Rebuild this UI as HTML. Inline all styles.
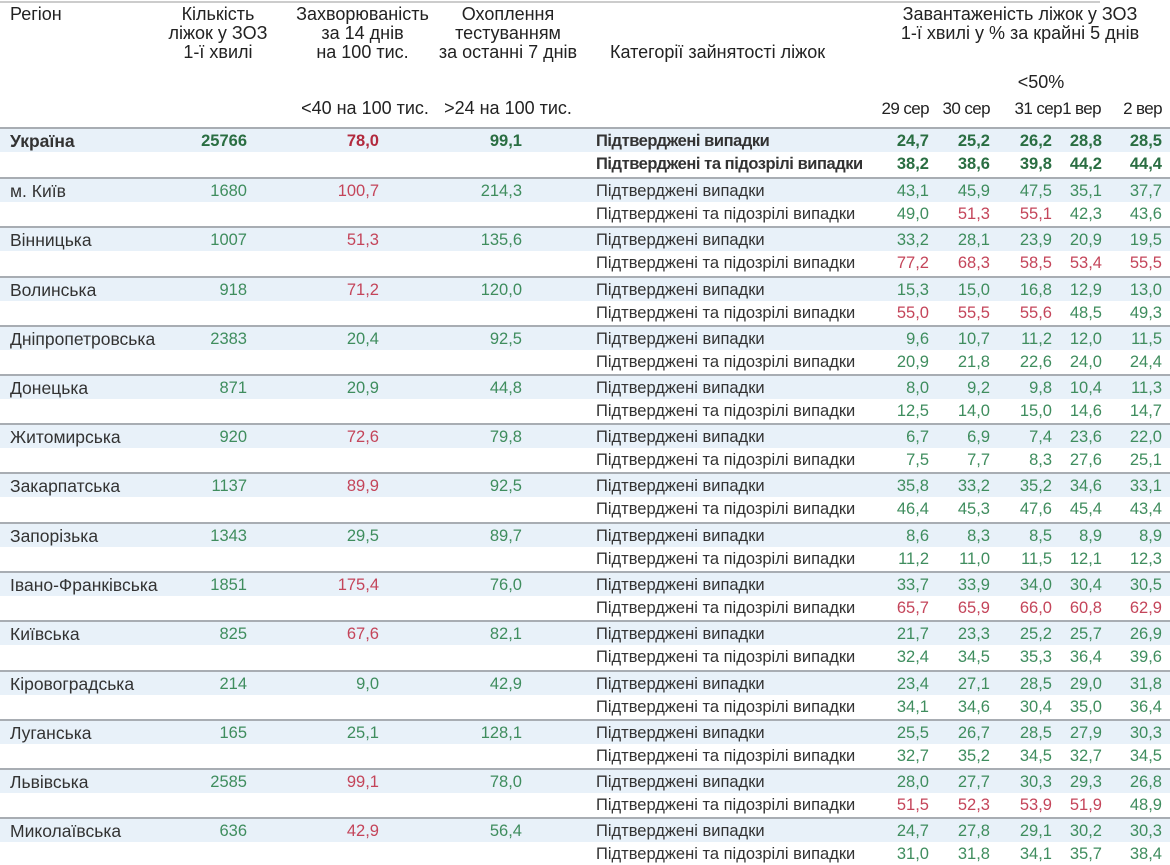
<!DOCTYPE html>
<html><head><meta charset="utf-8">
<style>
body{margin:0;background:#fff;}
#w{position:relative;width:1170px;height:865px;overflow:hidden;font-family:"Liberation Sans Narrow","Liberation Sans",sans-serif;font-size:16.5px;color:#333;}
.h{position:absolute;text-align:center;line-height:19px;color:#222;font-size:18px;}
.dh{position:absolute;top:99px;line-height:19px;color:#222;font-size:17px;letter-spacing:-0.6px;white-space:nowrap}
.R{position:absolute;left:0;width:1170px;height:49px;border-top:2px solid #a8adb3;box-sizing:border-box;}
.R:before{content:"";position:absolute;left:0;top:0;width:1170px;height:23px;background:#e8f1f9;}
.l{position:absolute;left:0;width:1170px;height:24px;line-height:24px;}
.l1{top:0}.l2{top:23px}
.l span{position:absolute;white-space:nowrap;}
.n{left:10px;font-size:17.5px}.b{right:923px}.i{right:791px}.t{right:648px}.c{left:596px}
.d1{right:241px}.d2{right:180px}.d3{right:118px}.d4{right:68px}.d5{right:8px}
.g{color:#3f8d5e}.r{color:#c4455a}
.U .g{color:#2a6e42}.U .r{color:#b22a3e}.U{font-weight:bold}
.U .c{letter-spacing:-0.45px}
</style></head><body><div id="w">
<div style="position:absolute;left:0;top:1px;width:1100px;height:2px;background:#ccc"></div>
<div class="h" style="left:10px;top:5px;text-align:left">Регіон</div>
<div class="h" style="left:153px;top:5px;width:130px">Кількість<br>ліжок у ЗОЗ<br>1-ї хвилі</div>
<div class="h" style="left:280px;top:5px;width:165px">Захворюваність<br>за 14 днів<br>на 100 тис.</div>
<div class="h" style="left:425px;top:5px;width:166px">Охоплення<br>тестуванням<br>за останні 7 днів</div>
<div class="h" style="left:280px;top:99px;width:170px">&lt;40 на 100 тис.</div>
<div class="h" style="left:425px;top:99px;width:166px">&gt;24 на 100 тис.</div>
<div class="h" style="left:610px;top:43px;text-align:left">Категорії зайнятості ліжок</div>
<div class="h" style="left:870px;top:5px;width:300px">Завантаженість ліжок у ЗОЗ<br>1-ї хвилі у % за крайні 5 днів</div>
<div class="h" style="left:1005px;top:73px;width:72px">&lt;50%</div>
<div class="dh" style="right:241px">29 сер</div>
<div class="dh" style="right:180px">30 сер</div>
<div class="dh" style="right:108px">31 сер</div>
<div class="dh" style="right:69px">1 вер</div>
<div class="dh" style="right:8px">2 вер</div>

<div class="R U" style="top:127px">
<div class="l l1"><span class="n">Україна</span><span class="b g">25766</span><span class="i r">78,0</span><span class="t g">99,1</span><span class="c">Підтверджені випадки</span><span class="d1 g">24,7</span><span class="d2 g">25,2</span><span class="d3 g">26,2</span><span class="d4 g">28,8</span><span class="d5 g">28,5</span></div>
<div class="l l2"><span class="c">Підтверджені та підозрілі випадки</span><span class="d1 g">38,2</span><span class="d2 g">38,6</span><span class="d3 g">39,8</span><span class="d4 g">44,2</span><span class="d5 g">44,4</span></div></div>

<div class="R" style="top:177px">
<div class="l l1"><span class="n">м. Київ</span><span class="b g">1680</span><span class="i r">100,7</span><span class="t g">214,3</span><span class="c">Підтверджені випадки</span><span class="d1 g">43,1</span><span class="d2 g">45,9</span><span class="d3 g">47,5</span><span class="d4 g">35,1</span><span class="d5 g">37,7</span></div>
<div class="l l2"><span class="c">Підтверджені та підозрілі випадки</span><span class="d1 g">49,0</span><span class="d2 r">51,3</span><span class="d3 r">55,1</span><span class="d4 g">42,3</span><span class="d5 g">43,6</span></div></div>

<div class="R" style="top:226px">
<div class="l l1"><span class="n">Вінницька</span><span class="b g">1007</span><span class="i r">51,3</span><span class="t g">135,6</span><span class="c">Підтверджені випадки</span><span class="d1 g">33,2</span><span class="d2 g">28,1</span><span class="d3 g">23,9</span><span class="d4 g">20,9</span><span class="d5 g">19,5</span></div>
<div class="l l2"><span class="c">Підтверджені та підозрілі випадки</span><span class="d1 r">77,2</span><span class="d2 r">68,3</span><span class="d3 r">58,5</span><span class="d4 r">53,4</span><span class="d5 r">55,5</span></div></div>

<div class="R" style="top:276px">
<div class="l l1"><span class="n">Волинська</span><span class="b g">918</span><span class="i r">71,2</span><span class="t g">120,0</span><span class="c">Підтверджені випадки</span><span class="d1 g">15,3</span><span class="d2 g">15,0</span><span class="d3 g">16,8</span><span class="d4 g">12,9</span><span class="d5 g">13,0</span></div>
<div class="l l2"><span class="c">Підтверджені та підозрілі випадки</span><span class="d1 r">55,0</span><span class="d2 r">55,5</span><span class="d3 r">55,6</span><span class="d4 g">48,5</span><span class="d5 g">49,3</span></div></div>

<div class="R" style="top:325px">
<div class="l l1"><span class="n">Дніпропетровська</span><span class="b g">2383</span><span class="i g">20,4</span><span class="t g">92,5</span><span class="c">Підтверджені випадки</span><span class="d1 g">9,6</span><span class="d2 g">10,7</span><span class="d3 g">11,2</span><span class="d4 g">12,0</span><span class="d5 g">11,5</span></div>
<div class="l l2"><span class="c">Підтверджені та підозрілі випадки</span><span class="d1 g">20,9</span><span class="d2 g">21,8</span><span class="d3 g">22,6</span><span class="d4 g">24,0</span><span class="d5 g">24,4</span></div></div>

<div class="R" style="top:374px">
<div class="l l1"><span class="n">Донецька</span><span class="b g">871</span><span class="i g">20,9</span><span class="t g">44,8</span><span class="c">Підтверджені випадки</span><span class="d1 g">8,0</span><span class="d2 g">9,2</span><span class="d3 g">9,8</span><span class="d4 g">10,4</span><span class="d5 g">11,3</span></div>
<div class="l l2"><span class="c">Підтверджені та підозрілі випадки</span><span class="d1 g">12,5</span><span class="d2 g">14,0</span><span class="d3 g">15,0</span><span class="d4 g">14,6</span><span class="d5 g">14,7</span></div></div>

<div class="R" style="top:423px">
<div class="l l1"><span class="n">Житомирська</span><span class="b g">920</span><span class="i r">72,6</span><span class="t g">79,8</span><span class="c">Підтверджені випадки</span><span class="d1 g">6,7</span><span class="d2 g">6,9</span><span class="d3 g">7,4</span><span class="d4 g">23,6</span><span class="d5 g">22,0</span></div>
<div class="l l2"><span class="c">Підтверджені та підозрілі випадки</span><span class="d1 g">7,5</span><span class="d2 g">7,7</span><span class="d3 g">8,3</span><span class="d4 g">27,6</span><span class="d5 g">25,1</span></div></div>

<div class="R" style="top:472px">
<div class="l l1"><span class="n">Закарпатська</span><span class="b g">1137</span><span class="i r">89,9</span><span class="t g">92,5</span><span class="c">Підтверджені випадки</span><span class="d1 g">35,8</span><span class="d2 g">33,2</span><span class="d3 g">35,2</span><span class="d4 g">34,6</span><span class="d5 g">33,1</span></div>
<div class="l l2"><span class="c">Підтверджені та підозрілі випадки</span><span class="d1 g">46,4</span><span class="d2 g">45,3</span><span class="d3 g">47,6</span><span class="d4 g">45,4</span><span class="d5 g">43,4</span></div></div>

<div class="R" style="top:522px">
<div class="l l1"><span class="n">Запорізька</span><span class="b g">1343</span><span class="i g">29,5</span><span class="t g">89,7</span><span class="c">Підтверджені випадки</span><span class="d1 g">8,6</span><span class="d2 g">8,3</span><span class="d3 g">8,5</span><span class="d4 g">8,9</span><span class="d5 g">8,9</span></div>
<div class="l l2"><span class="c">Підтверджені та підозрілі випадки</span><span class="d1 g">11,2</span><span class="d2 g">11,0</span><span class="d3 g">11,5</span><span class="d4 g">12,1</span><span class="d5 g">12,3</span></div></div>

<div class="R" style="top:571px">
<div class="l l1"><span class="n">Івано-Франківська</span><span class="b g">1851</span><span class="i r">175,4</span><span class="t g">76,0</span><span class="c">Підтверджені випадки</span><span class="d1 g">33,7</span><span class="d2 g">33,9</span><span class="d3 g">34,0</span><span class="d4 g">30,4</span><span class="d5 g">30,5</span></div>
<div class="l l2"><span class="c">Підтверджені та підозрілі випадки</span><span class="d1 r">65,7</span><span class="d2 r">65,9</span><span class="d3 r">66,0</span><span class="d4 r">60,8</span><span class="d5 r">62,9</span></div></div>

<div class="R" style="top:620px">
<div class="l l1"><span class="n">Київська</span><span class="b g">825</span><span class="i r">67,6</span><span class="t g">82,1</span><span class="c">Підтверджені випадки</span><span class="d1 g">21,7</span><span class="d2 g">23,3</span><span class="d3 g">25,2</span><span class="d4 g">25,7</span><span class="d5 g">26,9</span></div>
<div class="l l2"><span class="c">Підтверджені та підозрілі випадки</span><span class="d1 g">32,4</span><span class="d2 g">34,5</span><span class="d3 g">35,3</span><span class="d4 g">36,4</span><span class="d5 g">39,6</span></div></div>

<div class="R" style="top:670px">
<div class="l l1"><span class="n">Кіровоградська</span><span class="b g">214</span><span class="i g">9,0</span><span class="t g">42,9</span><span class="c">Підтверджені випадки</span><span class="d1 g">23,4</span><span class="d2 g">27,1</span><span class="d3 g">28,5</span><span class="d4 g">29,0</span><span class="d5 g">31,8</span></div>
<div class="l l2"><span class="c">Підтверджені та підозрілі випадки</span><span class="d1 g">34,1</span><span class="d2 g">34,6</span><span class="d3 g">30,4</span><span class="d4 g">35,0</span><span class="d5 g">36,4</span></div></div>

<div class="R" style="top:719px">
<div class="l l1"><span class="n">Луганська</span><span class="b g">165</span><span class="i g">25,1</span><span class="t g">128,1</span><span class="c">Підтверджені випадки</span><span class="d1 g">25,5</span><span class="d2 g">26,7</span><span class="d3 g">28,5</span><span class="d4 g">27,9</span><span class="d5 g">30,3</span></div>
<div class="l l2"><span class="c">Підтверджені та підозрілі випадки</span><span class="d1 g">32,7</span><span class="d2 g">35,2</span><span class="d3 g">34,5</span><span class="d4 g">32,7</span><span class="d5 g">34,5</span></div></div>

<div class="R" style="top:768px">
<div class="l l1"><span class="n">Львівська</span><span class="b g">2585</span><span class="i r">99,1</span><span class="t g">78,0</span><span class="c">Підтверджені випадки</span><span class="d1 g">28,0</span><span class="d2 g">27,7</span><span class="d3 g">30,3</span><span class="d4 g">29,3</span><span class="d5 g">26,8</span></div>
<div class="l l2"><span class="c">Підтверджені та підозрілі випадки</span><span class="d1 r">51,5</span><span class="d2 r">52,3</span><span class="d3 r">53,9</span><span class="d4 r">51,9</span><span class="d5 g">48,9</span></div></div>

<div class="R" style="top:817px">
<div class="l l1"><span class="n">Миколаївська</span><span class="b g">636</span><span class="i r">42,9</span><span class="t g">56,4</span><span class="c">Підтверджені випадки</span><span class="d1 g">24,7</span><span class="d2 g">27,8</span><span class="d3 g">29,1</span><span class="d4 g">30,2</span><span class="d5 g">30,3</span></div>
<div class="l l2"><span class="c">Підтверджені та підозрілі випадки</span><span class="d1 g">31,0</span><span class="d2 g">31,8</span><span class="d3 g">34,1</span><span class="d4 g">35,7</span><span class="d5 g">38,4</span></div></div>
</div></body></html>
